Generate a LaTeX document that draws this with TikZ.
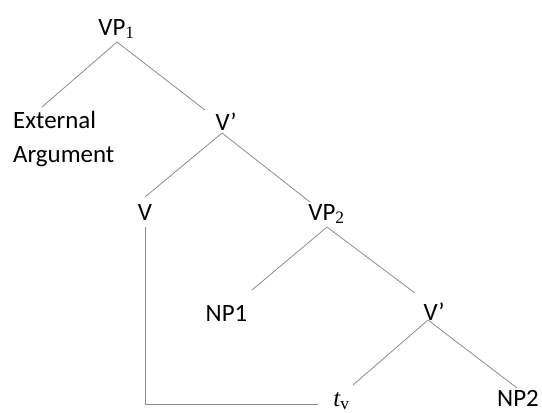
\documentclass[tikz,border=0pt]{standalone}
\usepackage{fontspec}
\setmainfont{Carlito}
\newfontfamily\subfont{Liberation Serif}
\definecolor{branchgray}{RGB}{140,140,140}
\tikzset{
  label/.style={inner sep=0pt, anchor=base, font=\fontsize{25}{34}\selectfont},
  branch/.style={draw=branchgray, line width=0.8bp}
}
\begin{document}
\begin{tikzpicture}[x=1bp, y=-1bp]
  \useasboundingbox (0, 0) rectangle (542, 412);
  % Nodes
  \node (VP1) [label] at (116.5, 35) {VP\textsubscript{\subfont 1}};
  \node (EXT) [label, anchor=base west, align=left] at (13, 162) {External\\Argument};
  \node (VB1) [label] at (226, 130) {V’};
  \node (V) [label] at (145, 220) {V};
  \node (VP2) [label] at (326.5, 220) {VP\textsubscript{\subfont 2}};
  \node (NP1) [label] at (226.5, 321) {NP1};
  \node (VB2) [label] at (434, 320) {V’};
  \node (T) [label] at (341.5, 406) {\subfont\itshape t\textsubscript{\upshape v}};
  \node (NP2) [label] at (518, 406) {NP2};
  % Branches
  \draw[branch] ([shift={(0.5,7)}]VP1.base) -- ([shift={(29,-55)}]EXT.base west);
  \draw[branch] ([shift={(0.5,7)}]VP1.base) -- ([shift={(-21,-20)}]VB1.base);
  \draw[branch] ([shift={(-4,3)}]VB1.base) -- ([shift={(0,-23)}]V.base);
  \draw[branch] ([shift={(-4,3)}]VB1.base) -- ([shift={(-16.5,-18)}]VP2.base);
  \draw[branch] ([shift={(0.5,7)}]VP2.base) -- ([shift={(25.5,-31)}]NP1.base);
  \draw[branch] ([shift={(0.5,7)}]VP2.base) -- ([shift={(-19,-27)}]VB2.base);
  \draw[branch] ([shift={(-6,0)}]VB2.base) -- ([shift={(11.5,-21)}]T.base);
  \draw[branch] ([shift={(-6,0)}]VB2.base) -- ([shift={(-1,-18)}]NP2.base);
  % Movement line
  \draw[branch] ([shift={(0,7)}]V.base) |- ([shift={(-23.5,-2)}]T.base);
\end{tikzpicture}
\end{document}
